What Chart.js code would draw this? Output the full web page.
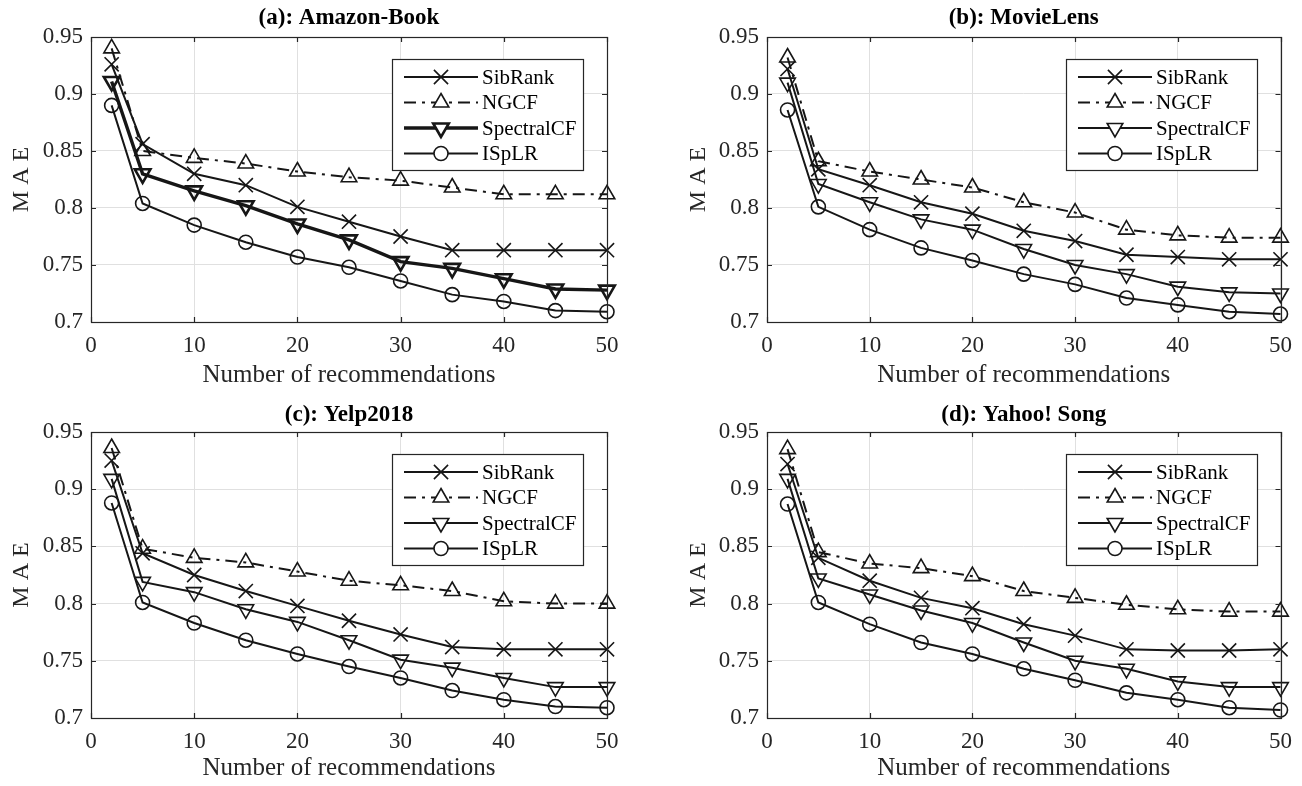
<!DOCTYPE html>
<html lang="en">
<head>
<meta charset="UTF-8">
<title>MAE vs number of recommendations</title>
<script src="https://cdn.jsdelivr.net/npm/chart.js@4.4.0/dist/chart.umd.min.js"></script>
<style>
  body { margin: 0; background: #fff; }
  .panel { position: absolute; width: 651px; height: 393px; }
</style>
</head>
<body>
<div class="panel" style="left:0;top:0"><canvas id="c0" width="651" height="393"></canvas></div>
<div class="panel" style="left:651px;top:0"><canvas id="c1" width="651" height="393"></canvas></div>
<div class="panel" style="left:0;top:393px"><canvas id="c2" width="651" height="393"></canvas></div>
<div class="panel" style="left:651px;top:393px"><canvas id="c3" width="651" height="393"></canvas></div>
<script>
// x values and tick labels
const recs = [2, 5, 10, 15, 20, 25, 30, 35, 40, 45, 50];
const xTicks = [0, 10, 20, 30, 40, 50];
const yTicks = [0.7, 0.75, 0.8, 0.85, 0.9, 0.95];
const seriesNames = ['SibRank', 'NGCF', 'SpectralCF', 'ISpLR'];
const panelTitles = ['(a): Amazon-Book', '(b): MovieLens', '(c): Yelp2018', '(d): Yahoo! Song'];

// (a) Amazon-Book
const bookSibRank    = [0.926, 0.856, 0.830, 0.820, 0.801, 0.788, 0.775, 0.763, 0.763, 0.763, 0.763];
const bookNGCF       = [0.940, 0.850, 0.844, 0.839, 0.832, 0.827, 0.824, 0.818, 0.812, 0.812, 0.812];
const bookSpectralCF = [0.911, 0.830, 0.815, 0.802, 0.786, 0.772, 0.753, 0.747, 0.738, 0.729, 0.728];
const bookISpLR      = [0.890, 0.804, 0.785, 0.770, 0.757, 0.748, 0.736, 0.724, 0.718, 0.710, 0.709];

// (b) MovieLens
const movieSibRank    = [0.922, 0.834, 0.820, 0.805, 0.795, 0.780, 0.771, 0.759, 0.757, 0.755, 0.755];
const movieNGCF       = [0.932, 0.841, 0.832, 0.825, 0.818, 0.805, 0.796, 0.781, 0.776, 0.774, 0.774];
const movieSpectralCF = [0.910, 0.821, 0.805, 0.790, 0.781, 0.764, 0.750, 0.742, 0.731, 0.726, 0.725];
const movieISpLR      = [0.886, 0.801, 0.781, 0.765, 0.754, 0.742, 0.733, 0.721, 0.715, 0.709, 0.707];

// (c) Yelp2018
const yelpSibRank    = [0.925, 0.844, 0.825, 0.811, 0.798, 0.785, 0.773, 0.762, 0.760, 0.760, 0.760];
const yelpNGCF       = [0.936, 0.848, 0.840, 0.836, 0.828, 0.820, 0.816, 0.811, 0.802, 0.800, 0.800];
const yelpSpectralCF = [0.909, 0.819, 0.810, 0.795, 0.784, 0.768, 0.751, 0.744, 0.735, 0.727, 0.727];
const yelpISpLR      = [0.888, 0.801, 0.783, 0.768, 0.756, 0.745, 0.735, 0.724, 0.716, 0.710, 0.709];

// (d) Yahoo! Song
const songSibRank    = [0.922, 0.840, 0.820, 0.805, 0.796, 0.782, 0.772, 0.760, 0.759, 0.759, 0.760];
const songNGCF       = [0.935, 0.845, 0.835, 0.831, 0.824, 0.811, 0.805, 0.799, 0.795, 0.793, 0.793];
const songSpectralCF = [0.909, 0.822, 0.808, 0.794, 0.783, 0.766, 0.750, 0.743, 0.732, 0.727, 0.727];
const songISpLR      = [0.887, 0.801, 0.782, 0.766, 0.756, 0.743, 0.733, 0.722, 0.716, 0.709, 0.707];

const panelData = [
  [bookSibRank, bookNGCF, bookSpectralCF, bookISpLR],
  [movieSibRank, movieNGCF, movieSpectralCF, movieISpLR],
  [yelpSibRank, yelpNGCF, yelpSpectralCF, yelpISpLR],
  [songSibRank, songNGCF, songSpectralCF, songISpLR]
];

// where each axes box sits inside its 651x393 canvas
const boxes = [
  { left: 91, right: 607, top: 37, bottom: 322, padLeft: 0 },
  { left: 116, right: 631, top: 37, bottom: 322, padLeft: 26 },
  { left: 91, right: 607, top: 39, bottom: 325, padLeft: 0 },
  { left: 116, right: 631, top: 39, bottom: 325, padLeft: 26 }
];

const INK = '#161616';
const AXIS = '#262626';
const SERIF = '"Liberation Serif", "Times New Roman", serif';

const markers = [
  { pointStyle: 'crossRot', radius: 10, rotation: 0 },
  { pointStyle: 'triangle', radius: 9, rotation: 0 },
  { pointStyle: 'triangle', radius: 9, rotation: 180 },
  { pointStyle: 'circle', radius: 7, rotation: 0 }
];
const dashes = [[], [12, 6, 3, 6], [], []];

// axes frame, inward ticks, title and legend
const matlabLook = {
  id: 'matlabLook',
  afterDraw(chart) {
    const ctx = chart.ctx;
    const a = chart.chartArea;
    const xs = chart.scales.x, ys = chart.scales.y;
    ctx.save();
    ctx.strokeStyle = AXIS;
    ctx.lineWidth = 1.2;
    ctx.setLineDash([]);
    ctx.strokeRect(Math.round(a.left) + 0.5, Math.round(a.top) + 0.5,
                   Math.round(a.right - a.left), Math.round(a.bottom - a.top));
    const tl = 5;
    ctx.beginPath();
    xTicks.forEach(v => {
      const px = Math.round(xs.getPixelForValue(v)) + 0.5;
      ctx.moveTo(px, a.bottom); ctx.lineTo(px, a.bottom - tl);
      ctx.moveTo(px, a.top); ctx.lineTo(px, a.top + tl);
    });
    yTicks.forEach(v => {
      const py = Math.round(ys.getPixelForValue(v)) + 0.5;
      ctx.moveTo(a.left, py); ctx.lineTo(a.left + tl, py);
      ctx.moveTo(a.right, py); ctx.lineTo(a.right - tl, py);
    });
    ctx.stroke();

    // title
    const opt = chart.options.plugins.matlabLook;
    ctx.fillStyle = '#000';
    ctx.font = 'bold 23px ' + SERIF;
    ctx.textAlign = 'center';
    ctx.textBaseline = 'middle';
    ctx.fillText(opt.title, (a.left + a.right) / 2, opt.titleY);

    // legend box
    const lw = 191, lh = 111;
    const lx = Math.round(a.right - 24 - lw), ly = Math.round(a.top + 22);
    ctx.fillStyle = '#fff';
    ctx.fillRect(lx, ly, lw, lh);
    ctx.lineWidth = 1.2;
    ctx.strokeStyle = AXIS;
    ctx.strokeRect(lx + 0.5, ly + 0.5, lw, lh);
    chart.data.datasets.forEach((ds, i) => {
      const y = ly + 18 + i * 25.5;
      ctx.strokeStyle = INK;
      ctx.lineWidth = ds.borderWidth;
      ctx.setLineDash(ds.borderDash || []);
      ctx.beginPath();
      ctx.moveTo(lx + 12, y); ctx.lineTo(lx + 86, y);
      ctx.stroke();
      ctx.setLineDash([]);
      ctx.lineWidth = ds.pointBorderWidth;
      ctx.fillStyle = '#fff';
      Chart.helpers.drawPoint(ctx, {
        pointStyle: ds.pointStyle, radius: ds.pointRadius,
        rotation: ds.pointRotation, borderWidth: ds.pointBorderWidth
      }, lx + 49, y);
      ctx.fillStyle = '#000';
      ctx.font = '21px ' + SERIF;
      ctx.textAlign = 'left';
      ctx.textBaseline = 'middle';
      ctx.fillText(ds.label, lx + 90, y + 1);
    });
    ctx.restore();
  }
};

function makePanel(idx) {
  const box = boxes[idx];
  const thick = idx === 0;
  const datasets = seriesNames.map((name, i) => ({
    label: name,
    data: recs.map((x, k) => ({ x: x, y: panelData[idx][i][k] })),
    borderColor: INK,
    borderWidth: (thick && i === 2) ? 3.4 : 2,
    borderDash: dashes[i],
    pointStyle: markers[i].pointStyle,
    pointRadius: markers[i].radius,
    pointRotation: markers[i].rotation,
    pointBorderColor: INK,
    pointBorderWidth: (thick && i === 2) ? 2.6 : 1.6,
    pointBackgroundColor: 'rgba(0,0,0,0)',
    tension: 0,
    clip: false
  }));

  new Chart(document.getElementById('c' + idx), {
    type: 'line',
    data: { datasets: datasets },
    plugins: [matlabLook],
    options: {
      responsive: false,
      animation: false,
      devicePixelRatio: 1,
      layout: { padding: { left: box.padLeft, right: 651 - box.right, top: box.top, bottom: 0 } },
      plugins: {
        legend: { display: false },
        tooltip: { enabled: false },
        matlabLook: { title: panelTitles[idx], titleY: idx < 2 ? 18 : 22 }
      },
      scales: {
        x: {
          type: 'linear', min: 0, max: 50,
          afterBuildTicks: s => { s.ticks = xTicks.map(v => ({ value: v })); },
          afterFit: s => { s.height = 393 - box.bottom; },
          grid: { color: '#e0e0e0', lineWidth: 1, drawTicks: false },
          border: { display: false },
          ticks: { color: AXIS, padding: 10, font: { family: SERIF, size: 23 } },
          title: { display: true, text: 'Number of recommendations', color: AXIS,
                   padding: { top: 0, bottom: 3 }, font: { family: SERIF, size: 25 } }
        },
        y: {
          type: 'linear', min: 0.7, max: 0.95,
          afterBuildTicks: s => { s.ticks = yTicks.map(v => ({ value: v })); },
          afterFit: s => { s.width = box.left - box.padLeft; },
          grid: { color: '#e0e0e0', lineWidth: 1, drawTicks: false },
          border: { display: false },
          ticks: { color: AXIS, padding: 8, font: { family: SERIF, size: 23 },
                   callback: v => String(+v.toFixed(2)) },
          title: { display: true, text: 'M A E', color: AXIS,
                   padding: { top: 7, bottom: 0 }, font: { family: SERIF, size: 24 } }
        }
      }
    }
  });
}

for (let i = 0; i < 4; i++) makePanel(i);
</script>
</body>
</html>
